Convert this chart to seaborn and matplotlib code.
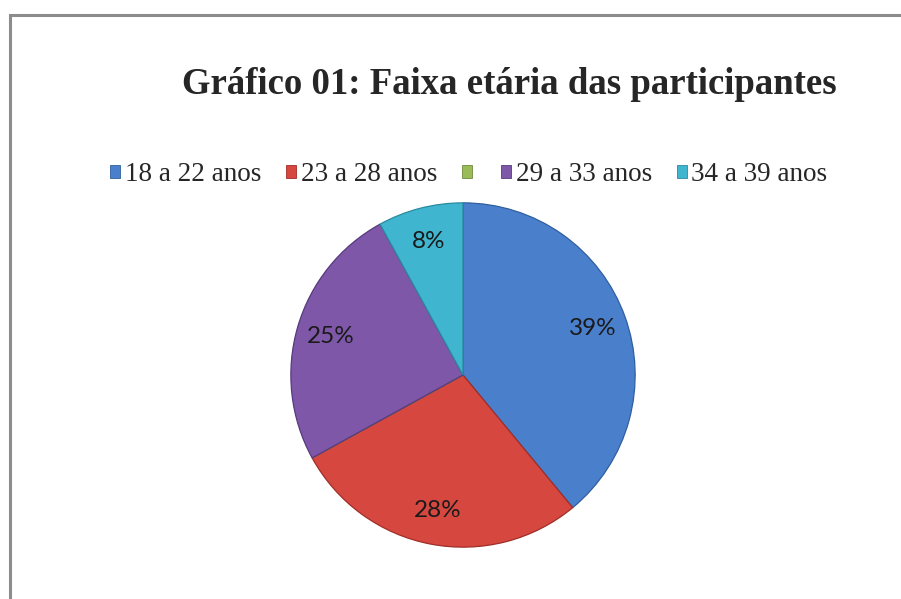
import matplotlib
matplotlib.use("Agg")
import matplotlib.pyplot as plt
import seaborn as sns
from matplotlib.patches import Patch, Rectangle

# Faixa etária (percentuais)
faixas = ["18 a 22 anos", "23 a 28 anos", "", "29 a 33 anos", "34 a 39 anos"]
percentuais = [39, 28, 0, 25, 8]
cores = ["#4a7fcc", "#d6473f", "#9bbb59", "#7e57a8", "#3fb5cf"]
bordas = ["#2f5f9f", "#9f2e28", "#6f8a3a", "#563a7c", "#2a8aa0"]

sns.set_theme(style="white")
plt.rcParams['font.family'] = ['Liberation Serif', 'DejaVu Serif']

W, H = 901, 599
fig = plt.figure(figsize=(W / 100, H / 100), dpi=100)
fig.patch.set_facecolor("white")

# chart frame (right/bottom edges fall outside the image)
fig.patches.append(Rectangle((10 / W, -0.05), 1.0, (H - 15) / H + 0.05,
                             transform=fig.transFigure, fill=False,
                             edgecolor="#8c8c8c", linewidth=2.2))

cx, cy, r = 463, 375, 173
ax = fig.add_axes([(cx - r) / W, (H - cy - r) / H, 2 * r / W, 2 * r / H])

wedges, texts, autotexts = ax.pie(
    percentuais, colors=cores, startangle=90, counterclock=False,
    autopct=lambda p: "" if p < 0.5 else "%.0f%%" % p, pctdistance=0.8,
    wedgeprops=dict(linewidth=0.9),
    textprops=dict(fontsize=17.5, color="#1a1a1a", family=["Lato", "DejaVu Sans"]))
for w, b in zip(wedges, bordas):
    w.set_edgecolor(b)
ax.set_xlim(-1.005, 1.005)
ax.set_ylim(-1.005, 1.005)
ax.set_aspect("equal")
ax.axis("off")

fig.text(509 / W, 1 - 84 / H, "Gráfico 01: Faixa etária das participantes",
         ha="center", va="center", fontsize=26.5, fontweight="bold")

handles = [Patch(facecolor=c, edgecolor=b, linewidth=0.6) for c, b in zip(cores, bordas)]
fig.legend(handles, faixas, loc="center", bbox_to_anchor=(469 / W, 1 - 175 / H),
           ncol=5, frameon=False, fontsize=19.5, handlelength=0.37, handleheight=0.37,
           handletextpad=0.18, columnspacing=0.9, borderaxespad=0)

fig.savefig("out.png", dpi=100)
